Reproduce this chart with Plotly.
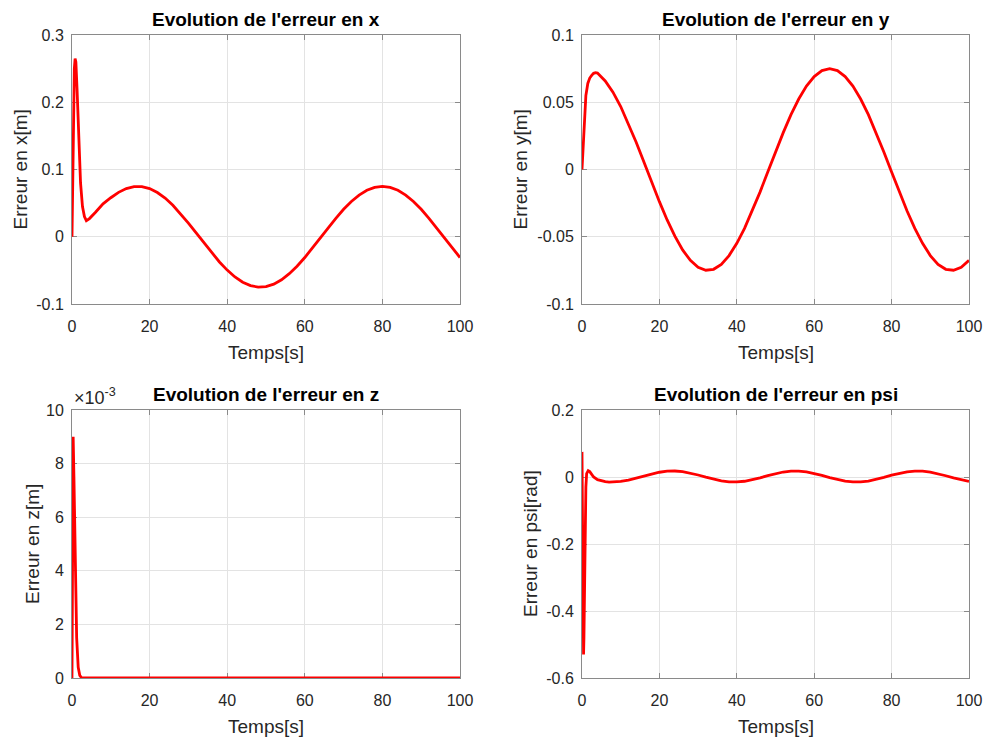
import plotly.graph_objects as go

# ---- error in x ----
t_x = [0, 0.3, 0.6, 0.8, 1.0, 1.3, 1.7, 2.2, 2.7, 3.2, 3.7, 4.5, 6, 8, 10, 12, 14, 16, 18,
       20, 22, 24, 26, 28, 30, 32, 34, 36, 38, 40, 42, 44, 46, 48, 50, 52, 54, 56, 58, 60,
       62, 64, 66, 68, 70, 72, 74, 76, 78, 80, 82, 84, 86, 88, 90, 92, 94, 96, 98, 100]
err_x = [0, 0.15, 0.25, 0.265, 0.26, 0.22, 0.15, 0.08, 0.045, 0.03, 0.024, 0.027, 0.036,
         0.049, 0.058, 0.066, 0.0717, 0.0746, 0.0746,
         0.0717, 0.0658, 0.0575, 0.0468, 0.0342, 0.0203, 0.0056, -0.0093, -0.0239, -0.0375,
         -0.0496, -0.0598, -0.0676, -0.0727, -0.0749, -0.0742, -0.0705, -0.0640, -0.0549,
         -0.0438, -0.0309, -0.0168, -0.0019, 0.0130, 0.0274, 0.0408, 0.0524, 0.0620, 0.0691,
         0.0735, 0.075, 0.0735, 0.0691, 0.0620, 0.0524, 0.0408, 0.0274, 0.0130, -0.0019,
         -0.0168, -0.0309]

# ---- error in y ----
t_y = [0, 0.3, 0.6, 1.0, 1.5, 2.0, 2.5, 3.0, 3.5, 4, 6, 8, 10, 12, 14, 16, 18, 20, 22, 24,
       26, 28, 30, 32, 34, 36, 38, 40, 42, 44, 46, 48, 50, 52, 54, 56, 58, 60, 62, 64, 66,
       68, 70, 72, 74, 76, 78, 80, 82, 84, 86, 88, 90, 92, 94, 96, 98, 100]
err_y = [0, 0.02, 0.04, 0.055, 0.064, 0.068, 0.070, 0.0715, 0.072, 0.0717, 0.0658, 0.0575,
         0.0468, 0.0342, 0.0203, 0.0056, -0.0093, -0.0239, -0.0375, -0.0496, -0.0598,
         -0.0676, -0.0727, -0.0749, -0.0742, -0.0705, -0.0640, -0.0549, -0.0438, -0.0309,
         -0.0168, -0.0019, 0.0130, 0.0274, 0.0408, 0.0524, 0.0620, 0.0691, 0.0735, 0.075,
         0.0735, 0.0691, 0.0620, 0.0524, 0.0408, 0.0274, 0.0130, -0.0019, -0.0168, -0.0309,
         -0.0438, -0.0549, -0.0640, -0.0705, -0.0742, -0.0749, -0.0727, -0.0676]

# ---- error in z ----
t_z = [0, 0.1, 0.2, 0.3, 0.5, 0.8, 1.2, 1.6, 2.0, 2.5, 5, 20, 40, 60, 80, 100]
err_z = [0, 0.004, 0.0085, 0.009, 0.0075, 0.004, 0.0015, 0.0004, 0.0001, 0, 0, 0, 0, 0, 0, 0]

# ---- error in psi ----
t_psi = [0, 0.1, 0.2, 0.3, 0.4, 0.5, 0.6, 0.8, 1.0, 1.2, 1.6, 2.0, 2.5, 3, 4, 5, 6, 7, 8,
         10, 12, 14, 16, 18, 20, 22, 24, 26, 28, 30, 32, 34, 36, 38, 40, 42, 44, 46, 48, 50,
         52, 54, 56, 58, 60, 62, 64, 66, 68, 70, 72, 74, 76, 78, 80, 82, 84, 86, 88, 90, 92,
         94, 96, 98, 100]
err_psi = [0.075, -0.1, -0.35, -0.5, -0.53, -0.48, -0.35, -0.15, -0.03, 0.01, 0.019, 0.016,
           0.008, 0.0, -0.008, -0.012, -0.014, -0.015, -0.0150,
           -0.0133, -0.0093, -0.0036, 0.0028, 0.0091, 0.0142, 0.0173, 0.0179, 0.0160, 0.0118,
           0.0060, -0.0004, -0.0067, -0.0116, -0.0145, -0.0148, -0.0127, -0.0083, -0.0024,
           0.0041, 0.0102, 0.0149, 0.0176, 0.0178, 0.0153, 0.0108, 0.0048, -0.0017, -0.0077,
           -0.0123, -0.0148, -0.0146, -0.0120, -0.0072, -0.0012, 0.0054, 0.0112, 0.0156,
           0.0178, 0.0175, 0.0147, 0.0099, 0.0037, -0.0029, -0.0087, -0.0129]

titles = ["Evolution de l'erreur en x", "Evolution de l'erreur en y",
          "Evolution de l'erreur en z", "Evolution de l'erreur en psi"]
y_labels = ["Erreur en x[m]", "Erreur en y[m]", "Erreur en z[m]", "Erreur en psi[rad]"]
x_label = "Temps[s]"
x_ticks = [0, 20, 40, 60, 80, 100]

y_ranges = [[-0.1, 0.3], [-0.1, 0.1], [0, 0.01], [-0.6, 0.2]]
y_tickvals = [[-0.1, 0, 0.1, 0.2, 0.3],
              [-0.1, -0.05, 0, 0.05, 0.1],
              [0, 0.002, 0.004, 0.006, 0.008, 0.01],
              [-0.6, -0.4, -0.2, 0, 0.2]]
y_ticktext = [["-0.1", "0", "0.1", "0.2", "0.3"],
              ["-0.1", "-0.05", "0", "0.05", "0.1"],
              ["0", "2", "4", "6", "8", "10"],
              ["-0.6", "-0.4", "-0.2", "0", "0.2"]]

W, H = 986, 740
# subplot boxes in pixels: (left, right, top, bottom)
boxes = [(72, 460, 35, 304), (582, 969, 35, 304), (72, 460, 410, 678), (582, 969, 410, 678)]
# horizontal pixel centre of each y-axis title
ylabel_x = [20, 520, 32, 530]

FONT = "Liberation Sans, Arial, Helvetica, sans-serif"
TXT = "#262626"
AX = "#8a8a8a"
GRID = "#e3e3e3"

series = [(t_x, err_x), (t_y, err_y), (t_z, err_z), (t_psi, err_psi)]

fig = go.Figure()
for i, (tt, vv) in enumerate(series):
    n = "" if i == 0 else str(i + 1)
    fig.add_trace(go.Scatter(x=tt, y=vv, mode="lines", cliponaxis=False,
                             line=dict(color="#ff0000", width=2.8),
                             xaxis="x" + n, yaxis="y" + n, showlegend=False))

axis_common = dict(showline=True, linecolor=AX, linewidth=1, mirror="ticks",
                   ticks="inside", ticklen=5, tickcolor=AX, tickwidth=1,
                   showgrid=True, gridcolor=GRID, gridwidth=1, zeroline=False,
                   automargin=False, layer="below traces",
                   tickfont=dict(family=FONT, size=16, color=TXT))

layout = dict(width=W, height=H, margin=dict(l=0, r=0, t=0, b=0, autoexpand=False),
              paper_bgcolor="white", plot_bgcolor="white",
              font=dict(family=FONT, color=TXT), showlegend=False)

annotations = []
for i in range(4):
    n = "" if i == 0 else str(i + 1)
    left, right, top, bottom = boxes[i]
    xd = [left / W, right / W]
    yd = [1 - bottom / H, 1 - top / H]
    layout["xaxis" + n] = dict(axis_common, domain=xd, anchor="y" + n,
                               range=[0, 100], tickvals=x_ticks, ticklabelstandoff=8)
    layout["yaxis" + n] = dict(axis_common, domain=yd, anchor="x" + n,
                               range=y_ranges[i], tickvals=y_tickvals[i],
                               ticktext=y_ticktext[i], ticklabelstandoff=4)
    xc = (left + right) / 2 / W
    # subplot title
    annotations.append(dict(text="<b>" + titles[i] + "</b>", xref="paper", yref="paper",
                            x=xc, y=1 - (top - 15.5) / H, xanchor="center", yanchor="middle",
                            showarrow=False, font=dict(family=FONT, size=19, color="#000000")))
    # x-axis title
    annotations.append(dict(text=x_label, xref="paper", yref="paper",
                            x=xc, y=1 - (bottom + 48) / H, xanchor="center", yanchor="middle",
                            showarrow=False, font=dict(family=FONT, size=19, color=TXT)))
    # y-axis title
    annotations.append(dict(text=y_labels[i], xref="paper", yref="paper", textangle=-90,
                            x=ylabel_x[i] / W, y=1 - (top + bottom) / 2 / H,
                            xanchor="center", yanchor="middle",
                            showarrow=False, font=dict(family=FONT, size=19, color=TXT)))

# exponent marker for the z axis
annotations.append(dict(text="\u00d710<sup>-3</sup>", xref="paper", yref="paper",
                        x=72 / W, y=1 - 410 / H, xanchor="left",
                        yanchor="bottom", yshift=0, showarrow=False,
                        font=dict(family=FONT, size=18, color=TXT)))

layout["annotations"] = annotations
fig.update_layout(**layout)
fig.write_html("out.html")
